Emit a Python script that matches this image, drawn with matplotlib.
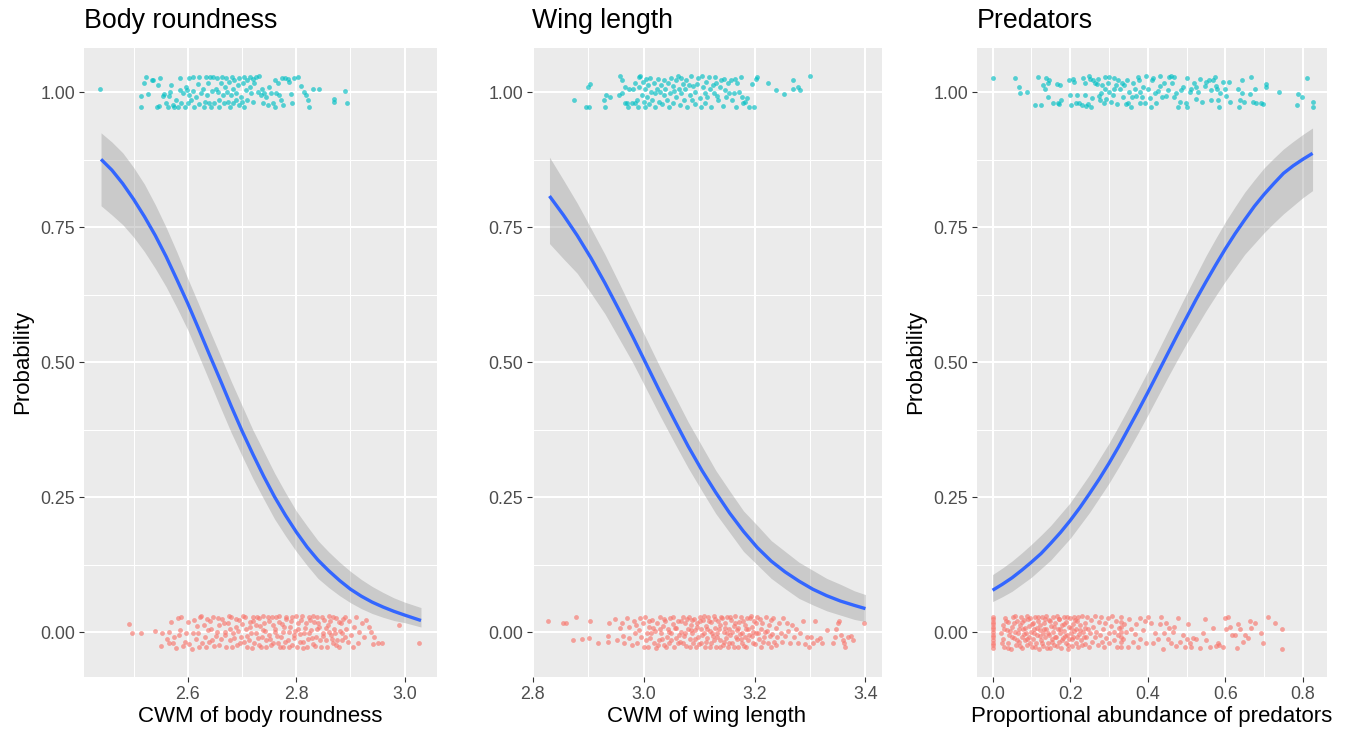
import matplotlib.pyplot as plt

plt.rcParams["font.family"] = ["Liberation Sans", "DejaVu Sans"]

CYAN = "#00BFC4"
RED = "#F8766D"
BLUE = "#3366FF"

#%% fitted curves
body_x = [2.44, 2.46, 2.48, 2.50, 2.52, 2.54, 2.56, 2.58, 2.60, 2.62, 2.64, 2.66, 2.68, 2.70, 2.72, 2.74,
          2.76, 2.78, 2.80, 2.82, 2.84, 2.86, 2.88, 2.90, 2.92, 2.94, 2.96, 2.98, 3.00, 3.03]
body_fit = [0.876, 0.856, 0.831, 0.802, 0.770, 0.735, 0.696, 0.653, 0.609, 0.562, 0.514, 0.467, 0.419, 0.373,
            0.330, 0.289, 0.251, 0.217, 0.186, 0.158, 0.134, 0.114, 0.096, 0.080, 0.067, 0.056, 0.047, 0.039,
            0.032, 0.022]
body_lo = [0.790, 0.773, 0.755, 0.732, 0.705, 0.674, 0.640, 0.601, 0.560, 0.513, 0.465, 0.417, 0.370, 0.327,
           0.285, 0.247, 0.210, 0.179, 0.150, 0.124, 0.100, 0.083, 0.068, 0.055, 0.044, 0.035, 0.028, 0.022,
           0.018, 0.010]
body_hi = [0.925, 0.908, 0.888, 0.861, 0.830, 0.792, 0.750, 0.704, 0.655, 0.608, 0.560, 0.513, 0.465, 0.420,
           0.375, 0.335, 0.295, 0.259, 0.225, 0.197, 0.170, 0.149, 0.130, 0.113, 0.098, 0.085, 0.074, 0.064,
           0.056, 0.046]

wing_x = [2.83, 2.855, 2.88, 2.905, 2.93, 2.955, 2.98, 3.005, 3.03, 3.055, 3.08, 3.105, 3.13, 3.155, 3.18,
          3.205, 3.23, 3.255, 3.28, 3.305, 3.33, 3.355, 3.38, 3.40]
wing_fit = [0.808, 0.773, 0.735, 0.693, 0.647, 0.598, 0.548, 0.496, 0.444, 0.394, 0.345, 0.300, 0.259, 0.221,
            0.187, 0.157, 0.132, 0.112, 0.095, 0.080, 0.068, 0.058, 0.050, 0.044]
wing_lo = [0.720, 0.692, 0.665, 0.628, 0.590, 0.545, 0.500, 0.450, 0.400, 0.352, 0.305, 0.262, 0.220, 0.185,
           0.150, 0.125, 0.100, 0.081, 0.063, 0.051, 0.040, 0.032, 0.024, 0.020]
wing_hi = [0.880, 0.838, 0.795, 0.748, 0.700, 0.648, 0.595, 0.543, 0.490, 0.440, 0.390, 0.345, 0.300, 0.262,
           0.225, 0.198, 0.170, 0.150, 0.130, 0.115, 0.100, 0.089, 0.077, 0.070]

pred_x = [0.0, 0.025, 0.05, 0.075, 0.10, 0.125, 0.15, 0.175, 0.20, 0.225, 0.25, 0.275, 0.30, 0.325, 0.35,
          0.375, 0.40, 0.425, 0.45, 0.475, 0.50, 0.525, 0.55, 0.575, 0.60, 0.625, 0.65, 0.675, 0.70, 0.725,
          0.75, 0.775, 0.80, 0.825]
pred_fit = [0.078, 0.089, 0.101, 0.115, 0.130, 0.146, 0.165, 0.185, 0.207, 0.231, 0.257, 0.284, 0.313, 0.344,
            0.377, 0.410, 0.444, 0.479, 0.514, 0.549, 0.583, 0.617, 0.649, 0.680, 0.710, 0.738, 0.764, 0.789,
            0.811, 0.831, 0.850, 0.864, 0.876, 0.887]
pred_lo = [0.057, 0.066, 0.076, 0.089, 0.102, 0.118, 0.134, 0.154, 0.174, 0.198, 0.222, 0.249, 0.276, 0.306,
           0.337, 0.369, 0.402, 0.436, 0.470, 0.503, 0.535, 0.565, 0.595, 0.623, 0.650, 0.675, 0.700, 0.720,
           0.740, 0.758, 0.775, 0.790, 0.805, 0.818]
pred_hi = [0.107, 0.119, 0.132, 0.147, 0.163, 0.180, 0.198, 0.219, 0.240, 0.266, 0.292, 0.321, 0.350, 0.382,
           0.415, 0.449, 0.483, 0.519, 0.555, 0.591, 0.627, 0.662, 0.697, 0.729, 0.760, 0.788, 0.815, 0.838,
           0.860, 0.878, 0.895, 0.909, 0.922, 0.934]

#%% jittered observations: (x, vertical jitter) around outcome 1 (cyan) and 0 (red)
body_pres = [
    (2.439, 0.007), (2.513, -0.007), (2.514, -0.028), (2.520, 0.018), (2.523, 0.028), (2.526, -0.004),
    (2.534, 0.022), (2.536, 0.022), (2.544, -0.027), (2.545, 0.014), (2.547, -0.025), (2.548, 0.026),
    (2.554, -0.006), (2.557, -0.004), (2.560, -0.020), (2.563, -0.027), (2.566, -0.007), (2.567, 0.001),
    (2.569, 0.013), (2.572, -0.023), (2.575, -0.027), (2.579, -0.014), (2.582, -0.028), (2.585, 0.004),
    (2.586, 0.026), (2.588, -0.020), (2.591, -0.002), (2.594, -0.027), (2.596, 0.010), (2.598, 0.004),
    (2.600, -0.020), (2.603, 0.026), (2.603, -0.005), (2.606, -0.014), (2.609, 0.003), (2.610, 0.028),
    (2.612, -0.027), (2.615, -0.008), (2.618, 0.015), (2.620, 0.029), (2.621, -0.022), (2.625, -0.002),
    (2.628, 0.006), (2.629, -0.027), (2.631, -0.017), (2.634, 0.029), (2.635, -0.005), (2.637, 0.017),
    (2.639, -0.019), (2.641, 0.028), (2.643, -0.027), (2.645, 0.003), (2.646, 0.029), (2.649, -0.020),
    (2.652, 0.007), (2.653, 0.026), (2.655, 0.001), (2.657, -0.027), (2.658, -0.014), (2.661, 0.017),
    (2.663, 0.029), (2.664, -0.005), (2.666, -0.020), (2.668, 0.010), (2.671, 0.026), (2.672, 0.001),
    (2.674, -0.017), (2.676, 0.020), (2.677, -0.027), (2.680, -0.005), (2.682, 0.029), (2.683, 0.007),
    (2.684, -0.020), (2.686, 0.023), (2.688, -0.014), (2.689, -0.002), (2.692, 0.013), (2.694, -0.023),
    (2.695, 0.026), (2.698, -0.008), (2.700, -0.017), (2.701, 0.017), (2.703, 0.029), (2.704, -0.027),
    (2.707, 0.004), (2.709, 0.022), (2.710, -0.014), (2.714, 0.010), (2.715, 0.029), (2.717, -0.002),
    (2.720, -0.017), (2.721, 0.024), (2.723, 0.017), (2.726, 0.029), (2.729, 0.001), (2.732, 0.030),
    (2.735, -0.005), (2.737, 0.007), (2.738, -0.020), (2.741, -0.002), (2.744, -0.009), (2.747, -0.023),
    (2.749, 0.010), (2.753, -0.002), (2.757, -0.020), (2.760, -0.027), (2.761, 0.023), (2.763, -0.002),
    (2.766, 0.017), (2.769, -0.005), (2.772, -0.014), (2.774, 0.026), (2.776, -0.023), (2.780, 0.026),
    (2.784, 0.024), (2.786, 0.020), (2.790, -0.003), (2.792, -0.019), (2.796, 0.026), (2.803, 0.028),
    (2.809, 0.012), (2.815, 0.001), (2.818, -0.005), (2.821, -0.014), (2.823, -0.028), (2.830, 0.006),
    (2.842, 0.007), (2.870, -0.013), (2.870, -0.017), (2.889, 0.003), (2.893, -0.020),
]
body_abs = [
    (2.491, 0.015), (2.497, -0.002), (2.514, -0.001), (2.540, 0.003), (2.550, -0.025), (2.553, -0.002),
    (2.561, -0.013), (2.565, 0.001), (2.569, 0.020), (2.572, -0.019), (2.579, -0.028), (2.582, 0.026),
    (2.583, -0.005), (2.588, 0.028), (2.591, -0.025), (2.600, 0.020), (2.608, -0.030), (2.612, 0.023),
    (2.615, -0.013), (2.618, -0.001), (2.623, 0.028), (2.626, -0.020), (2.629, 0.014), (2.633, -0.027),
    (2.637, 0.004), (2.641, 0.022), (2.645, -0.014), (2.647, 0.029), (2.652, -0.007), (2.657, 0.014),
    (2.658, -0.023), (2.663, 0.024), (2.668, 0.001), (2.671, -0.027), (2.674, 0.017), (2.677, -0.014),
    (2.680, 0.028), (2.683, -0.002), (2.688, 0.010), (2.690, -0.023), (2.694, 0.023), (2.698, -0.008),
    (2.701, 0.030), (2.704, -0.017), (2.707, 0.007), (2.710, -0.027), (2.714, 0.020), (2.717, -0.002),
    (2.720, 0.028), (2.723, -0.020), (2.726, 0.014), (2.729, -0.011), (2.732, 0.026), (2.735, -0.027),
    (2.738, 0.004), (2.741, 0.018), (2.744, -0.015), (2.747, 0.029), (2.750, -0.005), (2.753, -0.023),
    (2.757, 0.014), (2.760, 0.001), (2.763, 0.028), (2.766, -0.019), (2.769, 0.020), (2.772, -0.008),
    (2.775, -0.027), (2.778, 0.010), (2.781, 0.029), (2.784, -0.014), (2.787, 0.001), (2.790, 0.022),
    (2.793, -0.023), (2.796, -0.005), (2.800, 0.030), (2.803, 0.007), (2.806, -0.017), (2.809, 0.023),
    (2.812, -0.028), (2.815, -0.002), (2.818, 0.017), (2.821, -0.013), (2.824, 0.028), (2.827, 0.004),
    (2.830, -0.022), (2.833, 0.020), (2.836, -0.008), (2.839, 0.029), (2.842, 0.010), (2.846, -0.027),
    (2.849, -0.001), (2.852, 0.023), (2.855, -0.014), (2.858, 0.014), (2.861, 0.030), (2.864, -0.005),
    (2.867, -0.020), (2.870, 0.007), (2.873, 0.026), (2.876, -0.014), (2.879, -0.027), (2.882, 0.017),
    (2.885, -0.002), (2.889, 0.029), (2.892, 0.006), (2.895, -0.017), (2.898, 0.022), (2.901, -0.005),
    (2.904, -0.027), (2.907, 0.010), (2.910, 0.028), (2.913, -0.019), (2.916, 0.001), (2.921, 0.017),
    (2.925, -0.008), (2.928, 0.023), (2.935, 0.010), (2.938, 0.001), (2.941, -0.022), (2.944, -0.009),
    (2.950, -0.019), (2.958, -0.019), (2.990, 0.014), (3.027, -0.019),
    (2.610, -0.002), (2.617, 0.012), (2.620, -0.027), (2.625, 0.030), (2.631, -0.008), (2.635, 0.024),
    (2.639, -0.017), (2.643, 0.007), (2.649, -0.025), (2.653, 0.001), (2.655, 0.026), (2.661, -0.013),
    (2.666, 0.017), (2.669, -0.005), (2.676, 0.030), (2.678, 0.006), (2.682, -0.027), (2.686, -0.011),
    (2.689, 0.024), (2.693, 0.003), (2.696, -0.019), (2.700, 0.015), (2.706, 0.028), (2.709, -0.007),
    (2.712, -0.014), (2.715, 0.010), (2.718, -0.028), (2.721, 0.022), (2.725, -0.001), (2.727, 0.029),
    (2.731, -0.023), (2.733, 0.012), (2.737, -0.009), (2.739, 0.030), (2.743, 0.003), (2.745, -0.027),
    (2.749, 0.022), (2.752, -0.013), (2.755, 0.029), (2.758, -0.019), (2.761, 0.007), (2.764, -0.007),
    (2.768, 0.030), (2.770, -0.027), (2.774, 0.015), (2.776, 0.001), (2.780, -0.017), (2.782, 0.024),
    (2.786, -0.027), (2.788, 0.010), (2.792, 0.028), (2.795, -0.011), (2.798, 0.003), (2.801, -0.027),
    (2.804, 0.018), (2.807, -0.003), (2.811, 0.030), (2.813, -0.017), (2.817, 0.009), (2.819, -0.027),
    (2.823, -0.001), (2.825, 0.023), (2.829, -0.011), (2.831, 0.030), (2.835, -0.025), (2.838, 0.006),
    (2.841, 0.017), (2.844, -0.014), (2.847, 0.028), (2.850, -0.007), (2.854, 0.009), (2.856, -0.027),
    (2.860, 0.001), (2.862, 0.022), (2.866, -0.013), (2.868, 0.029), (2.872, -0.002), (2.874, -0.023),
    (2.878, 0.020), (2.881, 0.003), (2.884, -0.015), (2.887, 0.024), (2.890, -0.009), (2.566, -0.020),
    (2.575, -0.008), (2.585, 0.004), (2.594, -0.017), (2.597, -0.002), (2.603, -0.022),
]

wing_pres = [
    (2.875, -0.015), (2.895, -0.027), (2.899, 0.009), (2.901, -0.028), (2.903, 0.015), (2.928, -0.015),
    (2.930, -0.027), (2.932, -0.005), (2.939, -0.008), (2.955, -0.005), (2.958, 0.030), (2.961, -0.001),
    (2.960, 0.022), (2.967, 0.010), (2.967, -0.020), (2.970, -0.019), (2.972, -0.028), (2.974, 0.006),
    (2.978, -0.019), (2.980, 0.006), (2.984, 0.018), (2.985, -0.020), (2.988, -0.014), (2.990, -0.027),
    (2.991, 0.028), (2.992, 0.010), (2.994, 0.030), (2.997, -0.005), (2.998, 0.020), (3.000, -0.017),
    (3.002, 0.007), (3.003, -0.027), (3.004, 0.024), (3.006, -0.008), (3.008, 0.014), (3.010, -0.022),
    (3.012, 0.026), (3.014, 0.001), (3.015, -0.014), (3.018, 0.017), (3.020, -0.002), (3.021, -0.027),
    (3.024, 0.007), (3.026, 0.024), (3.027, -0.017), (3.030, 0.001), (3.031, 0.014), (3.033, -0.022),
    (3.036, 0.022), (3.037, -0.005), (3.039, 0.006), (3.042, -0.014), (3.043, 0.018), (3.045, -0.027),
    (3.048, -0.002), (3.049, 0.026), (3.052, 0.012), (3.053, -0.020), (3.055, 0.003), (3.058, -0.008),
    (3.059, 0.022), (3.061, 0.030), (3.064, 0.007), (3.065, -0.023), (3.067, 0.026), (3.068, -0.002),
    (3.071, 0.015), (3.073, -0.014), (3.075, 0.006), (3.077, 0.023), (3.079, -0.027), (3.081, 0.014),
    (3.083, -0.005), (3.086, 0.030), (3.087, -0.014), (3.089, 0.012), (3.092, -0.022), (3.093, 0.001),
    (3.097, 0.015), (3.098, 0.026), (3.101, -0.011), (3.103, -0.027), (3.105, 0.030), (3.107, 0.009),
    (3.110, -0.002), (3.111, -0.019), (3.113, 0.020), (3.115, -0.008), (3.117, 0.028), (3.119, 0.006),
    (3.122, -0.027), (3.125, 0.014), (3.127, -0.002), (3.129, 0.028), (3.131, 0.018), (3.132, -0.007),
    (3.134, -0.014), (3.137, 0.009), (3.140, 0.022), (3.143, -0.025), (3.144, 0.024), (3.147, 0.004),
    (3.149, -0.008), (3.152, 0.017), (3.154, -0.001), (3.157, 0.022), (3.160, -0.014), (3.163, -0.002),
    (3.165, 0.024), (3.167, -0.027), (3.169, 0.018), (3.172, 0.001), (3.175, 0.028), (3.178, -0.008),
    (3.180, -0.020), (3.182, -0.017), (3.187, -0.011), (3.190, -0.027), (3.196, 0.015), (3.199, -0.028),
    (3.202, 0.024), (3.205, 0.028), (3.225, 0.017), (3.238, 0.004), (3.253, -0.003), (3.269, 0.022),
    (3.270, 0.006), (3.279, 0.009), (3.282, 0.004), (3.300, 0.030),
]
wing_abs = [
    (2.828, 0.022), (2.854, 0.017), (2.860, 0.018), (2.873, -0.015), (2.878, 0.028), (2.889, -0.012),
    (2.901, -0.011), (2.903, 0.022), (2.917, -0.020), (2.935, -0.017), (2.936, -0.007), (2.938, 0.018),
    (2.948, 0.024), (2.952, -0.014), (2.957, 0.009), (2.960, 0.018), (2.963, -0.007), (2.964, -0.020),
    (2.970, 0.026), (2.973, 0.010), (2.974, -0.011), (2.978, -0.023), (2.982, 0.022), (2.984, -0.002),
    (2.986, 0.014), (2.988, -0.020), (2.991, 0.004), (2.994, 0.026), (2.996, -0.008), (2.998, 0.017),
    (3.000, -0.027), (3.003, 0.029), (3.006, -0.001), (3.008, -0.027), (3.010, 0.010), (3.012, -0.011),
    (3.015, 0.023), (3.018, -0.020), (3.020, 0.003), (3.022, -0.028), (3.024, 0.017), (3.027, -0.014),
    (3.030, 0.029), (3.031, -0.002), (3.034, 0.012), (3.036, -0.023), (3.039, 0.022), (3.042, -0.008),
    (3.043, 0.006), (3.046, -0.019), (3.048, 0.026), (3.050, -0.001), (3.053, 0.015), (3.055, -0.027),
    (3.058, -0.011), (3.059, 0.009), (3.062, 0.022), (3.065, -0.017), (3.068, 0.001), (3.071, 0.028),
    (3.073, -0.007), (3.075, 0.017), (3.077, -0.025), (3.080, 0.006), (3.081, 0.029), (3.083, -0.013),
    (3.086, 0.014), (3.087, -0.002), (3.089, -0.020), (3.091, 0.024), (3.093, 0.004), (3.095, -0.027),
    (3.097, 0.018), (3.098, -0.009), (3.101, 0.029), (3.103, 0.007), (3.104, -0.019), (3.107, 0.023),
    (3.109, -0.002), (3.110, -0.027), (3.113, 0.012), (3.115, -0.011), (3.116, 0.028), (3.119, 0.003),
    (3.121, -0.020), (3.122, 0.020), (3.125, -0.007), (3.127, 0.030), (3.128, 0.009), (3.131, -0.027),
    (3.132, -0.002), (3.134, 0.022), (3.137, -0.014), (3.138, 0.014), (3.140, 0.028), (3.143, -0.023),
    (3.144, 0.001), (3.146, 0.018), (3.149, -0.011), (3.150, 0.029), (3.152, -0.027), (3.154, 0.007),
    (3.156, -0.005), (3.157, 0.023), (3.160, -0.019), (3.162, 0.012), (3.165, 0.030), (3.166, -0.009),
    (3.169, 0.004), (3.170, -0.027), (3.172, 0.020), (3.175, -0.013), (3.176, 0.028), (3.178, -0.002),
    (3.181, -0.025), (3.182, 0.014), (3.184, 0.006), (3.187, 0.026), (3.188, -0.014), (3.190, -0.005),
    (3.193, 0.030), (3.196, 0.010), (3.198, -0.020), (3.199, 0.022), (3.202, -0.002), (3.205, 0.029),
    (3.208, -0.013), (3.211, 0.007), (3.212, -0.027), (3.214, 0.018), (3.217, -0.008), (3.220, 0.028),
    (3.222, 0.003), (3.224, -0.020), (3.226, 0.014), (3.229, -0.027), (3.230, 0.023), (3.232, -0.003),
    (3.235, -0.017), (3.238, 0.009), (3.241, -0.009), (3.244, 0.018), (3.247, -0.001), (3.250, -0.017),
    (3.252, 0.026), (3.255, -0.007), (3.258, 0.017), (3.261, 0.003), (3.264, -0.019), (3.267, 0.014),
    (3.271, -0.008), (3.275, 0.007), (3.279, -0.019), (3.282, -0.001), (3.287, 0.022), (3.291, -0.022),
    (3.294, -0.008), (3.299, -0.027), (3.301, -0.009), (3.306, -0.019), (3.309, 0.022), (3.312, -0.014),
    (3.318, -0.011), (3.321, -0.019), (3.330, 0.004), (3.342, -0.019), (3.345, -0.008), (3.347, 0.007),
    (3.350, 0.017), (3.352, 0.022), (3.356, -0.005), (3.359, -0.014), (3.362, -0.019), (3.364, -0.027),
    (3.368, -0.009), (3.374, -0.007), (3.377, -0.014), (3.398, 0.017),
    (3.004, -0.014), (3.009, 0.022), (3.014, -0.002), (3.017, 0.009), (3.026, -0.023), (3.029, 0.007),
    (3.033, -0.013), (3.037, 0.024), (3.040, -0.027), (3.045, 0.001), (3.049, -0.014), (3.052, 0.029),
    (3.056, 0.009), (3.061, -0.020), (3.064, -0.005), (3.067, 0.022), (3.070, -0.019), (3.074, -0.002),
    (3.079, 0.024), (3.083, -0.027), (3.085, 0.004), (3.088, 0.023), (3.092, -0.013), (3.096, 0.010),
    (3.099, -0.022), (3.102, 0.022), (3.106, -0.005), (3.108, 0.030), (3.112, -0.017), (3.114, 0.007),
    (3.118, 0.022), (3.120, -0.027), (3.124, -0.001), (3.126, -0.014), (3.129, 0.024), (3.132, -0.009),
    (3.135, 0.006), (3.138, -0.027), (3.141, 0.026), (3.144, -0.017), (3.147, 0.009), (3.150, -0.002),
    (3.153, -0.019), (3.156, 0.028), (3.159, 0.001), (3.162, -0.027), (3.165, 0.018), (3.168, -0.013),
    (3.171, 0.009), (3.173, -0.003), (3.177, -0.020), (3.179, 0.022), (3.183, -0.009), (3.185, -0.027),
    (3.189, 0.007), (3.191, 0.026), (3.195, -0.007), (3.197, 0.001), (3.201, -0.022), (3.203, 0.017),
    (3.207, -0.002), (3.210, 0.024), (3.216, -0.017), (3.219, 0.001), (3.228, -0.007), (3.233, 0.026),
    (3.239, -0.023),
]

pred_pres = [
    (0.000, 0.026), (0.059, 0.026), (0.067, 0.009), (0.071, -0.001), (0.090, 0.001), (0.110, -0.023),
    (0.116, 0.029), (0.125, -0.023), (0.131, 0.014), (0.134, 0.007), (0.138, 0.026), (0.142, 0.018),
    (0.145, 0.022), (0.142, -0.008), (0.155, -0.019), (0.165, 0.015), (0.168, -0.019), (0.172, -0.022),
    (0.174, 0.014), (0.177, -0.014), (0.198, 0.023), (0.200, -0.005), (0.202, -0.023), (0.207, 0.024),
    (0.211, 0.020), (0.214, -0.019), (0.217, -0.005), (0.224, -0.019), (0.231, -0.023), (0.234, 0.026),
    (0.237, 0.018), (0.239, -0.005), (0.241, -0.025), (0.245, -0.022), (0.248, 0.030), (0.252, 0.024),
    (0.254, -0.027), (0.257, -0.011), (0.260, 0.022), (0.265, 0.018), (0.269, 0.015), (0.271, 0.024),
    (0.274, -0.007), (0.277, -0.014), (0.280, -0.002), (0.283, 0.014), (0.286, -0.020), (0.289, 0.029),
    (0.291, 0.007), (0.293, -0.013), (0.297, 0.017), (0.300, 0.028), (0.301, 0.001), (0.306, -0.017),
    (0.310, -0.005), (0.312, 0.026), (0.314, 0.006), (0.319, 0.014), (0.320, -0.022), (0.323, 0.022),
    (0.329, 0.007), (0.334, 0.018), (0.336, -0.008), (0.340, 0.014), (0.343, -0.022), (0.346, 0.022),
    (0.349, -0.020), (0.353, 0.001), (0.357, -0.027), (0.360, -0.008), (0.362, 0.018), (0.366, 0.006),
    (0.370, -0.007), (0.375, 0.029), (0.377, 0.022), (0.379, 0.001), (0.381, -0.020), (0.386, -0.008),
    (0.388, 0.010), (0.392, -0.019), (0.396, 0.030), (0.401, 0.007), (0.405, -0.011), (0.409, -0.027),
    (0.412, 0.022), (0.413, 0.026), (0.418, -0.002), (0.422, -0.019), (0.426, 0.003), (0.431, 0.030),
    (0.432, 0.012), (0.438, -0.008), (0.441, 0.018), (0.448, -0.007), (0.452, 0.004), (0.455, 0.028),
    (0.461, 0.030), (0.463, 0.017), (0.467, 0.028), (0.469, -0.008), (0.474, -0.002), (0.478, -0.027),
    (0.484, -0.017), (0.487, 0.004), (0.491, 0.009), (0.498, -0.020), (0.500, 0.026), (0.501, -0.027),
    (0.508, 0.001), (0.512, 0.006), (0.519, 0.017), (0.524, 0.009), (0.525, -0.013), (0.530, 0.001),
    (0.534, 0.024), (0.541, -0.017), (0.547, 0.012), (0.551, 0.020), (0.558, 0.023), (0.562, -0.014),
    (0.564, 0.004), (0.568, 0.022), (0.573, 0.028), (0.575, 0.012), (0.579, 0.006), (0.581, -0.014),
    (0.584, -0.027), (0.587, -0.002), (0.593, 0.020), (0.599, 0.007), (0.603, -0.007), (0.610, 0.020),
    (0.612, -0.017), (0.633, 0.006), (0.636, -0.027), (0.639, -0.014), (0.642, 0.022), (0.644, -0.001),
    (0.648, -0.017), (0.665, 0.029), (0.663, -0.003), (0.672, -0.017), (0.676, 0.007), (0.680, -0.019),
    (0.691, -0.020), (0.696, -0.022), (0.705, 0.015), (0.705, 0.010), (0.739, 0.001), (0.788, -0.003),
    (0.786, -0.023), (0.797, -0.008), (0.810, 0.026), (0.825, -0.017), (0.825, -0.027),
]
pred_abs = [
    (0.0, 0.029), (0.0, 0.024), (0.0, 0.020), (0.0, 0.015), (0.0, 0.010), (0.0, 0.006), (0.0, 0.001),
    (0.0, -0.004), (0.0, -0.009), (0.0, -0.014), (0.0, -0.019), (0.0, -0.024), (0.0, -0.029),
    (0.022, -0.001), (0.026, 0.014), (0.028, -0.013), (0.030, -0.027), (0.033, 0.026), (0.036, 0.004),
    (0.039, -0.020), (0.041, 0.020), (0.043, -0.005), (0.047, -0.030), (0.050, 0.010), (0.052, 0.028),
    (0.056, -0.011), (0.059, 0.001), (0.060, -0.023), (0.062, 0.022), (0.065, -0.002), (0.069, -0.017),
    (0.071, 0.014), (0.073, 0.029), (0.076, -0.008), (0.077, -0.028), (0.079, 0.006), (0.082, 0.023),
    (0.084, -0.015), (0.086, -0.002), (0.088, 0.030), (0.090, -0.023), (0.093, 0.012), (0.095, -0.009),
    (0.096, 0.026), (0.099, 0.001), (0.102, -0.027), (0.103, 0.018), (0.105, -0.013), (0.108, 0.007),
    (0.110, 0.029), (0.112, -0.020), (0.114, -0.005), (0.116, 0.022), (0.119, -0.030), (0.121, 0.004),
    (0.122, 0.014), (0.125, -0.014), (0.127, 0.028), (0.129, -0.002), (0.131, -0.025), (0.133, 0.017),
    (0.136, -0.009), (0.138, 0.030), (0.139, 0.006), (0.142, -0.019), (0.145, 0.023), (0.146, -0.005),
    (0.148, -0.028), (0.151, 0.012), (0.153, -0.013), (0.155, 0.028), (0.157, 0.001), (0.159, -0.023),
    (0.162, 0.018), (0.164, -0.008), (0.165, 0.030), (0.168, 0.007), (0.170, -0.017), (0.172, 0.024),
    (0.174, -0.002), (0.177, -0.028), (0.179, 0.014), (0.181, -0.011), (0.183, 0.028), (0.185, 0.003),
    (0.188, -0.020), (0.189, 0.020), (0.191, -0.005), (0.194, -0.030), (0.196, 0.010), (0.198, -0.013),
    (0.200, 0.026), (0.202, -0.001), (0.205, -0.025), (0.207, 0.015), (0.208, -0.008), (0.211, 0.029),
    (0.214, -0.019), (0.215, 0.006), (0.217, 0.022), (0.220, -0.027), (0.222, -0.003), (0.226, 0.014),
    (0.228, -0.014), (0.231, 0.030), (0.232, 0.001), (0.237, -0.022), (0.239, 0.018), (0.241, -0.008),
    (0.243, 0.028), (0.245, 0.007), (0.248, -0.027), (0.251, -0.002), (0.254, 0.023), (0.257, -0.017),
    (0.260, 0.010), (0.263, 0.030), (0.265, -0.009), (0.267, 0.001), (0.271, -0.023), (0.274, 0.020),
    (0.276, -0.005), (0.280, 0.028), (0.282, -0.017), (0.284, 0.006), (0.288, -0.027), (0.291, 0.017),
    (0.293, -0.011), (0.297, 0.026), (0.300, -0.002), (0.301, -0.020), (0.306, 0.012), (0.308, 0.030),
    (0.312, -0.014), (0.314, 0.001), (0.319, 0.022), (0.320, -0.027), (0.323, -0.005), (0.327, 0.009),
    (0.331, 0.029), (0.331, 0.020), (0.331, 0.010), (0.331, 0.001), (0.331, -0.008), (0.331, -0.017),
    (0.331, -0.027), (0.336, -0.013), (0.340, 0.015), (0.344, 0.001), (0.349, -0.027), (0.353, 0.024),
    (0.357, 0.006), (0.362, -0.017), (0.366, -0.003), (0.370, 0.015), (0.375, -0.027), (0.379, 0.026),
    (0.381, -0.013), (0.388, 0.004), (0.392, 0.022), (0.396, -0.020), (0.401, 0.028), (0.409, 0.018),
    (0.413, -0.020), (0.418, -0.002), (0.426, -0.013), (0.431, 0.015), (0.435, 0.028), (0.439, -0.030),
    (0.443, -0.002), (0.448, 0.017), (0.452, -0.013), (0.456, 0.009), (0.461, -0.020), (0.465, 0.001),
    (0.469, 0.010), (0.474, -0.025), (0.478, 0.026), (0.482, -0.017), (0.491, -0.005), (0.495, -0.027),
    (0.500, -0.013), (0.504, 0.015), (0.508, -0.019), (0.512, -0.027), (0.517, -0.011), (0.525, -0.013),
    (0.534, -0.028), (0.542, -0.001), (0.547, 0.024), (0.551, -0.015), (0.560, -0.027), (0.568, 0.009),
    (0.577, -0.025), (0.581, -0.020), (0.585, -0.023), (0.594, -0.027), (0.599, 0.026), (0.603, 0.006),
    (0.607, 0.029), (0.611, 0.010), (0.616, -0.005), (0.624, -0.005), (0.629, -0.028), (0.633, 0.015),
    (0.637, 0.006), (0.646, -0.017), (0.650, -0.005), (0.659, -0.011), (0.663, 0.022), (0.665, 0.009),
    (0.676, 0.017), (0.693, -0.002), (0.697, -0.020), (0.710, 0.028), (0.728, 0.018), (0.745, 0.007),
    (0.747, -0.030),
    (0.024, -0.019), (0.029, 0.007), (0.034, 0.022), (0.040, -0.028), (0.045, 0.003), (0.049, -0.008),
    (0.054, 0.018), (0.058, 0.030), (0.063, -0.014), (0.067, 0.006), (0.071, -0.025), (0.075, 0.020),
    (0.080, -0.003), (0.084, 0.009), (0.089, -0.013), (0.092, 0.024), (0.097, -0.019), (0.101, 0.015),
    (0.106, -0.002), (0.109, -0.027), (0.115, 0.009), (0.118, 0.028), (0.123, -0.007), (0.127, -0.020),
    (0.132, 0.006), (0.135, 0.024), (0.140, -0.028), (0.144, -0.001), (0.149, 0.022), (0.152, -0.017),
    (0.158, 0.010), (0.161, -0.009), (0.166, -0.025), (0.170, 0.024), (0.175, 0.006), (0.178, -0.015),
    (0.183, 0.015), (0.187, -0.007), (0.192, 0.029), (0.195, -0.023), (0.201, 0.009), (0.204, -0.013),
    (0.209, 0.003), (0.213, 0.023), (0.218, -0.009), (0.221, 0.028), (0.226, 0.004), (0.230, -0.023),
    (0.235, -0.008), (0.238, 0.009),
]

#%% panel settings
panels = [
    dict(title="Body roundness", xlabel="CWM of body roundness", ylabel="Probability",
         pos=[0.0621, 0.0764, 0.2609, 0.8585], xlim=(2.4085, 3.059),
         xticks=[2.6, 2.8, 3.0], xminor=[2.5, 2.7, 2.9], xfmt="{:.1f}",
         curve=(body_x, body_fit, body_lo, body_hi), pres=body_pres, absn=body_abs),
    dict(title="Wing length", xlabel="CWM of wing length", ylabel=None,
         pos=[0.3935, 0.0764, 0.2585, 0.8585], xlim=(2.7985, 3.429),
         xticks=[2.8, 3.0, 3.2, 3.4], xminor=[2.9, 3.1, 3.3], xfmt="{:.1f}",
         curve=(wing_x, wing_fit, wing_lo, wing_hi), pres=wing_pres, absn=wing_abs),
    dict(title="Predators", xlabel="Proportional abundance of predators", ylabel="Probability",
         pos=[0.7224, 0.0764, 0.2589, 0.8585], xlim=(-0.041, 0.8615),
         xticks=[0.0, 0.2, 0.4, 0.6, 0.8], xminor=[0.1, 0.3, 0.5, 0.7], xfmt="{:.1f}",
         curve=(pred_x, pred_fit, pred_lo, pred_hi), pres=pred_pres, absn=pred_abs),
]

yticks = [0, 0.25, 0.5, 0.75, 1.0]
yminor = [0.125, 0.375, 0.625, 0.875]

fig = plt.figure(figsize=(13.52, 7.33), dpi=100)

for p in panels:
    ax = fig.add_axes(p["pos"])
    ax.set_facecolor("#EBEBEB")
    for s in ax.spines.values():
        s.set_visible(False)

    px, pj = zip(*p["pres"])
    ax.scatter(px, [1 + j for j in pj], s=12, color=CYAN, alpha=0.65, linewidths=0, zorder=2)
    ax_, aj = zip(*p["absn"])
    ax.scatter(ax_, aj, s=12, color=RED, alpha=0.65, linewidths=0, zorder=2)

    cx, cfit, clo, chi = p["curve"]
    ax.fill_between(cx, clo, chi, color="#999999", alpha=0.4, linewidth=0, zorder=3)
    ax.plot(cx, cfit, color=BLUE, lw=2.4, zorder=4, solid_capstyle="butt")

    ax.set_xlim(*p["xlim"])
    ax.set_ylim(-0.0826, 1.0826)
    ax.set_xticks(p["xticks"], [p["xfmt"].format(v) for v in p["xticks"]])
    ax.set_xticks(p["xminor"], minor=True)
    ax.set_yticks(yticks, ["0.00", "0.25", "0.50", "0.75", "1.00"])
    ax.set_yticks(yminor, minor=True)

    ax.grid(which="major", color="white", lw=1.5)
    ax.grid(which="minor", color="white", lw=0.75)
    ax.set_axisbelow(True)

    ax.tick_params(which="major", length=3.3, width=0.8, color="#333333",
                   labelcolor="#4D4D4D", labelsize=12.8, pad=3)
    ax.tick_params(which="minor", length=0)

    ax.set_title(p["title"], loc="left", fontsize=19.3, pad=14)
    ax.set_xlabel(p["xlabel"], fontsize=16, labelpad=2)
    if p["ylabel"]:
        ax.set_ylabel(p["ylabel"], fontsize=16, labelpad=5)

fig.savefig("out.png", dpi=100)
